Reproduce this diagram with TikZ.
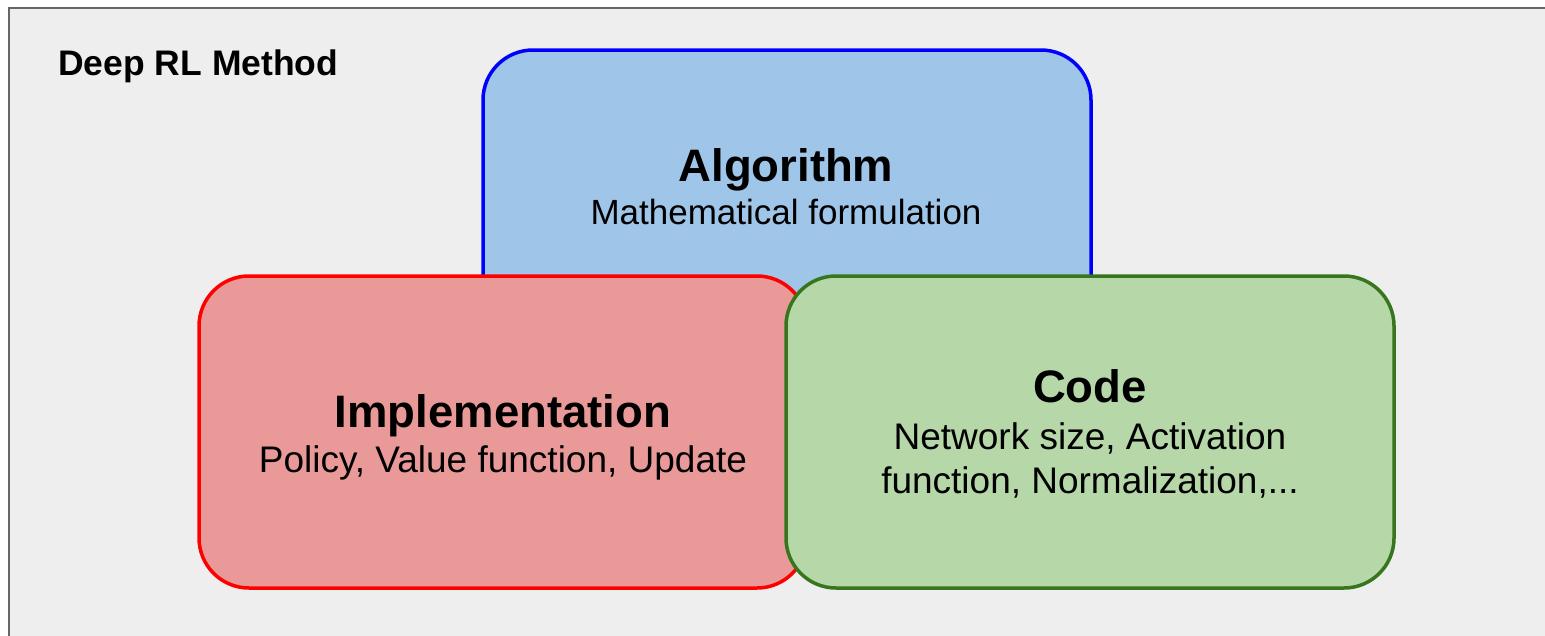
\documentclass[tikz,border=0pt]{standalone}
\usepackage{fontspec}
\setmainfont{Liberation Sans}
\definecolor{bgfill}{HTML}{EEEEEE}
\definecolor{frame}{HTML}{666666}
\definecolor{bluefill}{HTML}{9FC5E8}
\definecolor{bluedraw}{HTML}{0000FF}
\definecolor{redfill}{HTML}{EA9999}
\definecolor{reddraw}{HTML}{FF0000}
\definecolor{greenfill}{HTML}{B6D7A8}
\definecolor{greendraw}{HTML}{38761D}
\begin{document}
\begin{tikzpicture}[x=1pt,y=-1pt,
  box/.style={draw, line width=3.5pt, rounded corners=50pt, inner sep=0pt, outer sep=0pt, anchor=north west},
  title/.style={font=\fontsize{45.5}{50}\selectfont\bfseries, anchor=base, inner sep=0pt},
  body/.style={font=\fontsize{37}{42}\selectfont, anchor=base, inner sep=0pt},
  algbody/.style={font=\fontsize{35}{40}\selectfont, anchor=base, inner sep=0pt},
  head/.style={font=\fontsize{35.5}{40}\selectfont\bfseries, anchor=base west, inner sep=0pt}]
\useasboundingbox (0,0) rectangle (1545,635);
\fill[white] (0,0) rectangle (1545,635);
\draw[fill=bgfill, draw=frame, line width=2pt] (9,8) rectangle (1560,650);
\node[head] (method) at (58,75) {Deep RL Method};
\node[box, fill=bluefill, draw=bluedraw, minimum width=608pt, minimum height=320pt] (algbox) at (483,50) {};
\node[box, fill=redfill, draw=reddraw, minimum width=608pt, minimum height=312pt] (impbox) at (199,276) {};
\node[box, fill=greenfill, draw=greendraw, minimum width=608pt, minimum height=312pt] (codebox) at (786,276) {};
\node[title] (algt) at (786,181) {Algorithm};
\node[algbody] (algb) at (786,224) {Mathematical formulation};
\node[title] (impt) at (503,427) {Implementation};
\node[body] (impb) at (503,472) {Policy, Value function, Update};
\node[title] (codet) at (1090,402) {Code};
\node[body] (codeb1) at (1090,449) {Network size, Activation};
\node[body] (codeb2) at (1090,493) {function, Normalization,...};
\end{tikzpicture}
\end{document}
